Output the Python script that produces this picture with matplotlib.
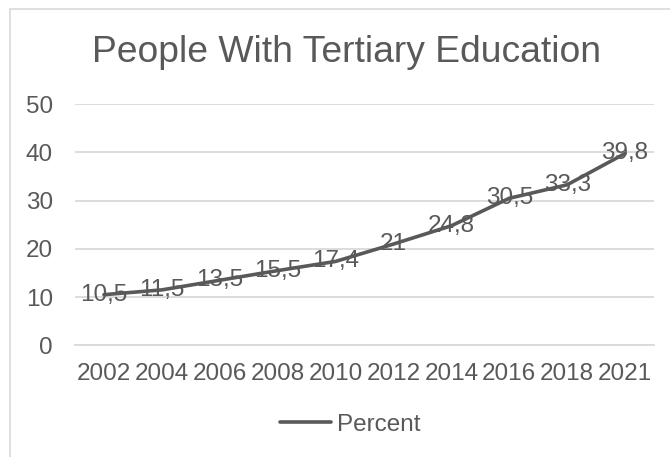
import matplotlib
matplotlib.use("Agg")
import matplotlib.pyplot as plt
from matplotlib.patches import Rectangle

years = ["2002", "2004", "2006", "2008", "2010", "2012", "2014", "2016", "2018", "2021"]
percent = [10.5, 11.5, 13.5, 15.5, 17.4, 21, 24.8, 30.5, 33.3, 39.8]
y_ticks = [0, 10, 20, 30, 40, 50]

TEXT = "#595959"
GRID = "#d9d9d9"
W, H = 670, 457

plt.rcParams["font.family"] = ["Liberation Sans", "DejaVu Sans"]

fig = plt.figure(figsize=(W / 100, H / 100), dpi=100)
ax = fig.add_axes([75 / W, 1 - 345.3 / H, (654 - 75) / W, (345.3 - 104.3) / H])

# chart area border (cropped at the right/bottom in the reference)
fig.patches.append(Rectangle((10 / W, -0.1), 1.2, 1 - 8.5 / H + 0.1,
                             transform=fig.transFigure, fill=False,
                             edgecolor=GRID, linewidth=1.2))

x = list(range(len(years)))
ax.plot(x, percent, color=TEXT, linewidth=2.6, solid_joinstyle="round",
        solid_capstyle="round", label="Percent", zorder=3)

for xi, v in zip(x, percent):
    lbl = f"{v:g}".replace(".", ",")
    ax.text(xi, v, lbl, ha="center", va="center", fontsize=17.5, color=TEXT, zorder=4)

ax.set_xlim(-0.5, len(years) - 0.5)
ax.set_ylim(0, 50)
ax.set_yticks(y_ticks)
ax.set_xticks(x)
ax.set_xticklabels(years)
ax.yaxis.grid(True, color=GRID, linewidth=1.3)
ax.set_axisbelow(True)
for s in ax.spines.values():
    s.set_visible(False)
ax.spines["bottom"].set_visible(True)
ax.spines["bottom"].set_color(GRID)
ax.spines["bottom"].set_linewidth(1.3)
ax.tick_params(length=0, labelsize=17.5, colors=TEXT)
ax.tick_params(axis="y", pad=16)
ax.tick_params(axis="x", pad=13)

fig.text(346 / W, 1 - 62 / H, "People With Tertiary Education", ha="center",
         va="baseline", fontsize=26.8, color=TEXT)

fig.legend(loc="center", bbox_to_anchor=(350 / W, 1 - 425 / H), frameon=False,
           fontsize=17.5, handlelength=2.1, handletextpad=0.25, borderpad=0,
           labelcolor=TEXT)

fig.savefig("out.png", dpi=100)
